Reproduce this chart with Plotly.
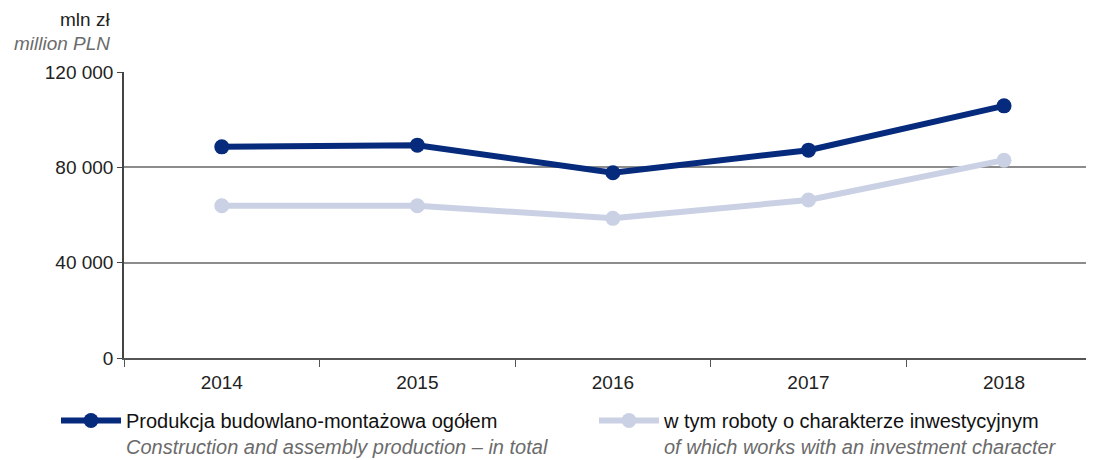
import plotly.graph_objects as go

years = ["2014", "2015", "2016", "2017", "2018"]
total = [88600, 89300, 77700, 87200, 105800]
investment = [63900, 63900, 58600, 66300, 83000]
y_ticks = [0, 40000, 80000, 120000]
y_tick_labels = ["0", "40 000", "80 000", "120 000"]

name_total = ("Produkcja budowlano-montażowa ogółem<br>"
              "<i><span style='color:#6b6b6b'>Construction and assembly production – in total</span></i>")
name_inv = ("w tym roboty o charakterze inwestycyjnym<br>"
            "<i><span style='color:#6b6b6b'>of which works with an investment character</span></i>")

FONT = "Liberation Sans, Arial, sans-serif"
DARK = "#062a7c"
LIGHT = "#cbd1e4"
W, H = 1086, 452  # page adds an 8px body margin
LEG_TOP = 1 - 393 / H

fig = go.Figure()
fig.add_trace(go.Scatter(x=years, y=total, name=name_total, mode="lines+markers",
                         line=dict(color=DARK, width=6), marker=dict(size=15, color=DARK),
                         legend="legend"))
fig.add_trace(go.Scatter(x=years, y=investment, name=name_inv, mode="lines+markers",
                         line=dict(color=LIGHT, width=6), marker=dict(size=15, color=LIGHT),
                         legend="legend2"))

leg_common = dict(orientation="h", xref="container", yref="container",
                  y=LEG_TOP, xanchor="left", yanchor="top", valign="top",
                  font=dict(family=FONT, size=20, color="#111"), itemwidth=60)

fig.update_layout(
    width=W, height=H,
    margin=dict(l=116, r=0, t=64, b=102, autoexpand=False),
    paper_bgcolor="white", plot_bgcolor="white",
    font=dict(family=FONT, size=19, color="#222"),
    showlegend=True,
    legend=dict(x=48 / W, **leg_common),
    legend2=dict(x=586 / W, **leg_common),
    xaxis=dict(type="category", range=[-0.5, 4.46], showgrid=False, automargin=False,
               showline=True, linecolor="#555", linewidth=2,
               ticks="outside", tickson="boundaries", ticklen=7, tickcolor="#555",
               ticklabelstandoff=6,
               tickfont=dict(family=FONT, size=19, color="#222")),
    yaxis=dict(range=[0, 120000], tickvals=y_ticks, ticktext=y_tick_labels, automargin=False,
               showgrid=True, gridcolor="#8c8c8c", gridwidth=1.5,
               showline=True, linecolor="#444", linewidth=1.5,
               ticks="outside", ticklen=5, tickcolor="#444",
               zeroline=True, zerolinecolor="#555", zerolinewidth=2,
               tickfont=dict(family=FONT, size=19, color="#222")),
)

fig.add_annotation(text="mln zł", xref="paper", yref="paper", x=0, y=1,
                   xshift=-12, yshift=40, xanchor="right", yanchor="bottom", showarrow=False,
                   font=dict(family=FONT, size=19, color="#222"))
fig.add_annotation(text="<i>million PLN</i>", xref="paper", yref="paper", x=0, y=1,
                   xshift=-12, yshift=16, xanchor="right", yanchor="bottom", showarrow=False,
                   font=dict(family=FONT, size=19, color="#6b6b6b"))

fig.write_html("out.html")
